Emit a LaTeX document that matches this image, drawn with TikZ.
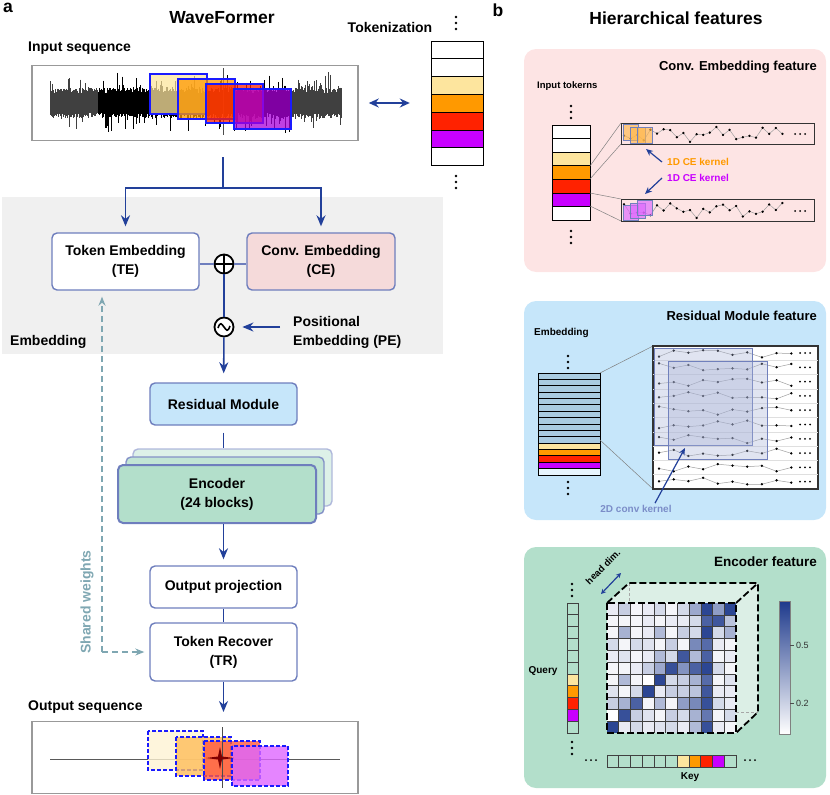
\documentclass[tikz,border=0pt]{standalone}
\usepackage{fontspec}
\setmainfont{Liberation Sans}
\usetikzlibrary{arrows.meta,positioning,calc}

\definecolor{arrowblue}{HTML}{22409A}
\definecolor{boxline}{HTML}{6E7EBD}
\definecolor{cefill}{HTML}{F5DADA}
\definecolor{pinkpanel}{HTML}{FDE4E4}
\definecolor{bluepanel}{HTML}{C6E6FA}
\definecolor{greenpanel}{HTML}{B3DFCB}
\definecolor{bandgray}{HTML}{F0F0F0}
\definecolor{sharedgray}{HTML}{7FA7B2}
\definecolor{tokyellow}{HTML}{FDE59E}
\definecolor{tokorange}{HTML}{FF9900}
\definecolor{tokred}{HTML}{FF2200}
\definecolor{tokpurple}{HTML}{C800FF}
\definecolor{kernelline}{HTML}{7080BC}
\definecolor{kerneltext}{HTML}{7B8DC8}
\definecolor{heatblue}{HTML}{1E3A8C}
\definecolor{embblue}{HTML}{A9CBE0}
\definecolor{winblue}{HTML}{1A1AFF}
\definecolor{cubeside}{HTML}{DCEFE6}

\newcommand{\bigfont}{\fontsize{17.5}{20}\selectfont\bfseries}
\newcommand{\lblfont}{\fontsize{14}{19}\selectfont\bfseries}
\newcommand{\panelfont}{\fontsize{13}{16}\selectfont\bfseries}
\newcommand{\smallfont}{\fontsize{10}{12}\selectfont\bfseries}
\newcommand{\vdotcol}[2]{\foreach \d in {0,6,12} {\fill (#1,#2+\d) circle (1.3);}}
\newcommand{\hdotrow}[2]{\foreach \d in {0,5,10} {\fill (#1+\d,#2) circle (1.0);}}

\begin{document}
\begin{tikzpicture}[x=1pt,y=-1pt,
    declare function={jit(\t)=sin(97*\t+11)*cos(53*\t);},
    block/.style={draw=boxline,line width=1.4pt,rounded corners=5pt,minimum width=147pt,
                  minimum height=42pt,align=center,font=\lblfont,fill=white},
    lbl/.style={font=\lblfont,inner sep=0pt},
    flow/.style={draw=arrowblue,line width=1.6pt,-{Stealth[length=11pt,width=9pt]},shorten >=6pt},
    flowline/.style={draw=arrowblue,line width=1.6pt},
    shared/.style={draw=sharedgray,line width=1.3pt,dash pattern=on 6pt off 4pt,-{Stealth[length=9pt,width=7pt]}},
    opcirc/.style={circle,draw=black,line width=1.8pt,minimum size=19pt,inner sep=0pt,fill=white},
    tokcell/.style={draw=black,line width=0.8pt},
    window/.style={draw=winblue,line width=1.5pt,fill opacity=0.75},
    outwindow/.style={draw=winblue,line width=1.5pt,dash pattern=on 4pt off 2pt,fill opacity=0.8},
    kernel/.style={draw=kernelline,line width=1pt,fill opacity=0.65},
    trace/.style={draw=gray!75,line width=0.5pt,mark=*,mark size=0.9pt,mark options={draw=black,fill=black}},
    cubeedge/.style={draw=black,line width=1.8pt,dash pattern=on 7pt off 3pt}
  ]
  \useasboundingbox (0,0) rectangle (830,795);

  % ---------------- panel a ----------------
  \fill[bandgray] (2,197) rectangle (443,354);

  \node[lbl,font=\bigfont] (tagA) at (8,8) {a};
  \node[lbl,font=\bigfont] (title) at (222,18) {WaveFormer};
  \node[lbl,anchor=west] (inlabel) at (28,48) {Input sequence};
  \node[lbl] (toklabel) at (390,27) {Tokenization};

  % input waveform
  \node[draw=gray!80,line width=1.5pt,minimum width=326pt,minimum height=75pt] (inbox) at (195,103) {};
  \pgfmathsetseed{11}
  \foreach \xa/\xb/\wc in {50/98/black!75,98.6/290/black,290.6/342/black!75}{
    \pgfmathsetmacro{\xs}{\xa+0.6}
    \foreach \xx in {\xa,\xs,...,\xb}{
      \pgfmathsetmacro{\up}{10+5*rnd+16*rnd^12}
      \pgfmathsetmacro{\dn}{10+5*rnd+16*rnd^12}
      \draw[draw=\wc,line width=0.5pt] (\xx,103-\up) -- (\xx,103+\dn);
    }
  }
  \draw[black!70,line width=0.6pt] (223,68) -- (223,135);
  \fill[tokyellow,window] (150,74) rectangle (207,114);
  \draw[window] (150,74) rectangle (207,114);
  \fill[tokorange,window] (178,79) rectangle (235,119);
  \draw[window] (178,79) rectangle (235,119);
  \fill[tokred,window] (206,84) rectangle (263,123);
  \draw[window] (206,84) rectangle (263,123);
  \fill[tokpurple!85!black,window] (234,89) rectangle (291,129);
  \draw[window] (234,89) rectangle (291,129);

  % token column
  \foreach \col [count=\k from 0] in {white,white,tokyellow,tokorange,tokred,tokpurple,white}
    \draw[tokcell,fill=\col] (431,41+17.8*\k) rectangle ++(52,17.8);
  \node[minimum width=52pt,minimum height=125pt,inner sep=0pt] (tokcol) at (457,103.5) {};
  \vdotcol{456}{17}
  \vdotcol{456}{176}
  \draw[arrowblue,line width=1.6pt,{Stealth[length=10pt,width=9pt]}-{Stealth[length=10pt,width=9pt]},
        shorten <=10pt,shorten >=21pt] (inbox.east) -- (tokcol.west |- inbox.east);

  % embedding
  \coordinate (stem) at (223,157);
  \coordinate (split) at (223,188);
  \draw[flowline] (stem) -- (split);
  \node[block,minimum height=57pt] (te) at (125.5,261.5) {Token Embedding\\(TE)};
  \node[block,minimum height=57pt,minimum width=148pt,fill=cefill] (ce) at (321,261.5) {Conv. Embedding\\(CE)};
  \draw[flow] (split) -| (te.north);
  \draw[flow] (split) -| (ce.north);
  \node[opcirc] (plus) at (224,264) {};
  \draw[line width=1.5pt] (plus.north) -- (plus.south) (plus.west) -- (plus.east);
  \draw[boxline,line width=1.4pt] (te.east |- plus) -- (plus) -- (ce.west |- plus);
  \node[opcirc] (tilde) at (224,327) {};
  \draw[line width=1.6pt] ([xshift=-6pt,yshift=-1pt]tilde.center) .. controls +(2.5pt,7pt) and +(-2.5pt,3pt) .. (tilde.center)
        .. controls +(2.5pt,-3pt) and +(-2.5pt,-7pt) .. ([xshift=6pt,yshift=1pt]tilde.center);
  \draw[flowline] (plus) -- (tilde);
  \node[lbl,anchor=west,align=left] (pe) at (293,332) {Positional\\Embedding (PE)};
  \draw[flow,shorten >=8pt] ([xshift=-13pt]pe.west |- tilde) -- (tilde);
  \node[lbl,anchor=west] (emblabel) at (10,342) {Embedding};

  % backbone
  \node[block,fill=bluepanel] (res) at (223.5,404) {Residual Module};
  \draw[flow,shorten >=9pt] (tilde) -- (res);
  \node[block,minimum width=199pt,minimum height=57pt,fill=greenpanel!45,draw=boxline!55] (enc3) at (232.5,477.5) {};
  \node[block,minimum width=198pt,minimum height=57pt,fill=greenpanel!80,draw=boxline!85] (enc2) at (225,485.5) {};
  \node[block,minimum width=198pt,minimum height=58pt,fill=greenpanel,line width=2pt] (enc1) at (217,494) {Encoder\\(24 blocks)};
  \draw[flowline] ([yshift=-7pt]res.south) -- (res.south |- enc3.north);
  \node[block] (outproj) at (223.5,587) {Output projection};
  \draw[flow] (res.south |- enc1.south) -- (outproj.north);
  \node[block,minimum height=58pt] (tr) at (223.5,652) {Token Recover\\(TR)};
  \draw[flowline] (outproj.south) -- (tr.north);
  \coordinate (outtip) at (223.5,712);
  \draw[flow,shorten >=0pt] (tr.south) -- (outtip);

  % shared weights
  \coordinate (swcorner) at (102,652);
  \draw[shared,shorten >=5pt] (swcorner) -- (tr.west);
  \draw[shared,shorten >=6pt] (swcorner) -- (swcorner |- te.south);
  \node[lbl,rotate=90,text=sharedgray] (swlabel) at (87,602) {Shared weights};

  % output sequence
  \node[lbl,anchor=west] (outlabel) at (28,707) {Output sequence};
  \node[draw=gray!80,line width=1.5pt,minimum width=326pt,minimum height=72pt] (outbox) at (195,757.5) {};
  \draw[black!65,line width=0.8pt] (50,759) -- (340,759);
  \fill[tokyellow!45,outwindow] (148,731) rectangle (203,770);
  \draw[outwindow] (148,731) rectangle (203,770);
  \fill[tokorange!65,outwindow] (176,737) rectangle (231,776);
  \draw[outwindow] (176,737) rectangle (231,776);
  \fill[tokred!75!white,outwindow] (204,741) rectangle (260,780);
  \draw[outwindow] (204,741) rectangle (260,780);
  \fill[tokpurple!60!white,outwindow] (232,746) rectangle (288,786);
  \draw[outwindow] (232,746) rectangle (288,786);
  \draw[black!70,line width=1pt] (222,727) -- (222,788);
  \fill[red!50!black] (206,758) -- (218,756.5) -- (220,747) -- (222,756.5) -- (234,758)
        -- (222,759.5) -- (220,769) -- (218,759.5) -- cycle;

  % ---------------- panel b ----------------
  \node[lbl,font=\bigfont] (tagB) at (498,10) {b};
  \node[lbl,font=\bigfont] (titleB) at (676,18) {Hierarchical features};

  % conv. embedding feature
  \fill[pinkpanel,rounded corners=12pt] (524,49) rectangle (826,272);
  \node[lbl,font=\panelfont,anchor=east] (cetitle) at (817,67) {Conv. Embedding feature};
  \node[lbl,font=\fontsize{9.5}{11}\selectfont\bfseries,anchor=west] (intok) at (537,86) {Input tokerns};
  \vdotcol{571}{106}
  \vdotcol{571}{231}
  \foreach \col [count=\k from 0] in {white,white,tokyellow,tokorange,tokred,tokpurple,white}
    \draw[tokcell,fill=\col] (552,125+13.6*\k) rectangle ++(38,13.6);
  \draw[gray,line width=0.5pt] (590,166) -- (621,123) (590,179) -- (621,144)
        (590,193) -- (621,199) (590,206) -- (621,221);
  \draw[black!80,line width=0.9pt] (621,123) rectangle (814,144);
  \draw[black!80,line width=0.9pt] (621,199) rectangle (814,221);
  \draw[trace] plot[samples at={0,...,24}] ({624+6.6*\x},{134+8*jit(\x)});
  \draw[trace] plot[samples at={0,...,24}] ({624+6.6*\x},{210+8*jit(\x+40)});
  \hdotrow{795}{134}
  \hdotrow{795}{211}
  \foreach \dx/\dy in {0/0,7/3,14/3}
    \filldraw[kernel,fill=tokorange!70] (623+\dx,124+\dy) rectangle ++(15,16);
  \foreach \dx/\dy in {0/5,7/3,14/0}
    \filldraw[kernel,fill=tokpurple!60] (623+\dx,200+\dy) rectangle ++(15,15.5);
  \node[lbl,font=\smallfont,text=tokorange,anchor=west] (k1) at (667,162) {1D CE kernel};
  \node[lbl,font=\smallfont,text=tokpurple,anchor=west] (k2) at (667,178) {1D CE kernel};
  \draw[flow,line width=1.2pt,-{Stealth[length=7pt,width=6pt]},shorten >=0pt] ([xshift=-5pt]k1.west) -- (646,149);
  \draw[flow,line width=1.2pt,-{Stealth[length=7pt,width=6pt]},shorten >=0pt] ([xshift=-5pt]k2.west) -- (645,194);

  % residual module feature
  \fill[bluepanel,rounded corners=12pt] (524,301) rectangle (826,520);
  \node[lbl,font=\panelfont,anchor=east] (restitle) at (817,316) {Residual Module feature};
  \node[lbl,font=\smallfont,anchor=west] (emb) at (534,333) {Embedding};
  \vdotcol{568}{356}
  \vdotcol{568}{482}
  \foreach \col [count=\k from 0] in {embblue,embblue,embblue,embblue,embblue,embblue,embblue,embblue,
                                      embblue,embblue,embblue,tokyellow,tokorange,tokred,tokpurple,bluepanel!40}
    \draw[tokcell,fill=\col] (538,373+6.375*\k) rectangle ++(62,6.375);
  \draw[gray,line width=0.5pt] (600,373) -- (653,346) (600,440) -- (653,489);
  \draw[fill=white,draw=black!80,line width=1.2pt] (653,346) rectangle (818,489);
  \foreach \r in {1,...,9}
    \draw[gray!25,line width=0.5pt] (653,346+14.3*\r) -- (818,346+14.3*\r);
  \foreach \r in {0,...,9}{
    \draw[trace] plot[samples at={0,...,9}] ({659+14.7*\x},{353+14.3*\r+4.5*jit(\x+11*\r+3)});
    \hdotrow{800}{353+14.3*\r}
  }
  \filldraw[kernel,fill=kernelline!60,fill opacity=0.35] (654,348) rectangle (752,445);
  \filldraw[kernel,fill=kernelline!60,fill opacity=0.35] (668,361) rectangle (767,459);
  \node[lbl,font=\smallfont,text=kerneltext] (k2d) at (636,509) {2D conv kernel};
  \draw[flow,line width=1.2pt,-{Stealth[length=7pt,width=6pt]},shorten >=0pt] ([xshift=19pt,yshift=2pt]k2d.north) -- (685,448);

  % encoder feature
  \fill[greenpanel,rounded corners=12pt] (524,547) rectangle (826,788);
  \node[lbl,font=\fontsize{13.5}{16}\selectfont\bfseries,anchor=east] (enctitle) at (817,562) {Encoder feature};
  \node[lbl,font=\smallfont] (query) at (543,671) {Query};
  \node[lbl,font=\smallfont] (key) at (690,777) {Key};
  \vdotcol{572}{584}
  \vdotcol{572}{742}
  \hdotrow{586}{760}
  \hdotrow{745}{760}
  \foreach \col [count=\k from 0] in {greenpanel,greenpanel,greenpanel,greenpanel,greenpanel,greenpanel,
                                      tokyellow,tokorange,tokred,tokpurple,greenpanel}{
    \draw[draw=black!75,line width=0.7pt,fill=\col] (567,603+11.82*\k) rectangle ++(11.5,11.82);
    \draw[draw=black!75,line width=0.7pt,fill=\col] (607+11.73*\k,755) rectangle ++(11.73,12);
  }
  % cube
  \fill[cubeside] (607,603) -- (629,583) -- (758,583) -- (736,603) -- cycle;
  \fill[cubeside] (736,603) -- (758,583) -- (758,712) -- (736,733) -- cycle;
  \draw[gray!70,line width=0.8pt,dash pattern=on 3pt off 2pt] (629,583) -- (629,603) (736,712) -- (758,712);
  \foreach \row [count=\r from 0] in {
      {.1,.25,.05,.1,.2,.05,.2,.45,.95,.5,.95},
      {.05,.05,.05,.1,.05,.1,.1,.2,.8,.85,.3},
      {.05,.4,.05,.1,.35,.05,.25,.2,.95,.2,.4},
      {.2,.05,.2,.15,.05,.25,.05,.6,.75,.1,.05},
      {.1,.15,.05,.1,.35,.2,.85,.35,.8,.05,.1},
      {.05,.05,.1,.25,.45,.9,.55,.8,.95,.2,.05},
      {.05,.35,.05,0,.95,.2,.25,.4,.75,.05,.15},
      {.15,.05,.2,.95,.1,.25,.25,.3,.85,.1,.1},
      {.25,.4,.8,.05,.35,.05,.5,.6,.9,.2,.1},
      {0,.9,.25,.15,.05,.25,.2,.4,.7,.05,.2},
      {.95,.1,.2,.1,.15,.2,.1,.35,.9,.1,.05}}{
    \foreach \v [count=\c from 0] in \row{
      \pgfmathtruncatemacro{\pct}{100*\v}
      \fill[heatblue!\pct!white] (607+11.73*\c,603+11.82*\r) rectangle ++(11.73,11.82);
    }
  }
  \foreach \i in {1,...,10}{
    \draw[black!75,line width=0.6pt] (607+11.73*\i,603) -- (607+11.73*\i,733);
    \draw[black!75,line width=0.6pt] (607,603+11.82*\i) -- (736,603+11.82*\i);
  }
  \draw[cubeedge] (607,603) rectangle (736,733);
  \draw[cubeedge] (607,603) -- (629,583) -- (758,583) -- (758,712) -- (736,733);
  \draw[cubeedge] (736,603) -- (758,583);
  \draw[arrowblue,line width=1.2pt,{Stealth[length=5pt,width=5pt]}-{Stealth[length=5pt,width=5pt]}] (601,594) -- (621,573);
  \node[lbl,font=\fontsize{9.5}{11}\selectfont\bfseries,rotate=45] (headdim) at (603,567) {head dim.};
  % colour bar
  \shade[top color=heatblue,bottom color=white] (779,601) rectangle (790,734);
  \draw[gray,line width=0.6pt] (779,601) rectangle (790,734);
  \draw[black!70,line width=0.6pt] (790,645) -- (794,645) (790,703) -- (794,703);
  \node[inner sep=0pt,anchor=west,font=\fontsize{9}{10}\selectfont,text=black!80] (cb5) at (796,645) {0.5};
  \node[inner sep=0pt,anchor=west,font=\fontsize{9}{10}\selectfont,text=black!80] (cb2) at (796,703) {0.2};
\end{tikzpicture}
\end{document}
